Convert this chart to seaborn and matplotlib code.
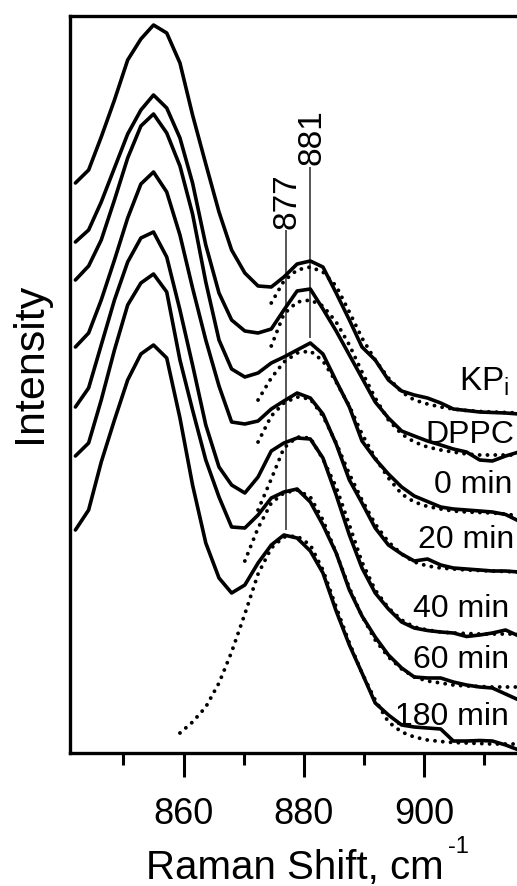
import numpy as np
import pandas as pd
import matplotlib
matplotlib.use("Agg")
import matplotlib.pyplot as plt
import seaborn as sns

# ---------------- data ----------------
raman_shift = [842.0, 844.2, 846.3, 848.5, 850.7, 852.9, 855.0, 857.2, 859.4, 861.5,
               863.7, 865.9, 868.0, 870.2, 872.4, 874.6, 876.7, 878.9, 881.1, 883.2,
               885.4, 887.6, 889.7, 891.9, 894.1, 896.3, 898.4, 900.6, 902.8, 904.9,
               907.1, 909.3, 911.4, 913.6, 915.8]

samples = ["KPi", "DPPC", "0 min", "20 min", "40 min", "60 min", "180 min"]
sample_labels = ["KP$_\\mathregular{i}$", "DPPC", "0 min", "20 min",
                 "40 min", "60 min", "180 min"]

# measured spectra (stacked, arbitrary units)
kpi = [569, 582, 615, 652, 692, 713, 727, 719, 689, 637,
       588, 540, 502, 479, 466, 465, 475, 488, 491, 485,
       459, 432, 405, 392, 372, 361, 357, 354, 349, 343,
       341.5, 340, 339.5, 339, 338]
dppc = [510, 522, 550, 584, 618, 642, 657, 644, 614, 569,
        507, 459, 432, 421, 419, 423, 442, 461, 463, 443,
        421, 397, 374, 350, 334, 321, 316, 311, 307, 303,
        300, 292, 291, 296, 300]
min0 = [472, 486, 512, 552, 594, 626, 638, 619, 586, 538,
        470, 412, 383, 375, 379, 389, 395, 402, 409, 398,
        371, 345, 311, 293, 278, 265, 256, 250.5, 245, 243,
        242, 241, 240, 237.5, 231]
min20 = [405, 419, 452, 492, 534, 568, 580, 560, 517, 464,
         412, 366, 330, 328, 331, 343, 351, 359, 354, 338,
         308, 272, 249, 224, 207, 198, 191, 193, 187, 184,
         183, 182, 181, 181, 180]
min40 = [345, 364, 407, 452, 490, 514, 520, 495, 442, 387,
         327, 285, 267, 259, 275, 301, 309, 314, 313, 294,
         257, 217, 184, 159, 143, 130, 124, 121.5, 120, 119,
         115.5, 117, 119, 122, 116]
min60 = [296, 309, 352, 402, 447, 469, 478, 460, 392, 342,
         292, 255, 225, 224, 237, 254, 260, 263, 250, 227,
         199, 162, 136, 115, 97, 84, 75, 74, 74, 70,
         67, 65, 64, 58, 52]
min180 = [222, 242, 290, 332, 372, 398, 407, 394, 334, 267,
          209, 174, 159, 167, 189, 207, 217, 214, 201, 179,
          141, 107, 79, 49, 37, 27, 25, 24, 23, 11,
          11, 11.5, 11, 7, 2]

# fitted bands (dotted), None where no fit was drawn
kpi_fit = [None] * 15 + [449, 471, 482, 485, 480, 466, 440, 414, 392, 374,
                         360, 352, 348, 345, 343, 341.5, 340.5, 340, 339.5, 339]
dppc_fit = [None] * 15 + [406, 438, 450, 452, 446, 430, 407, 380, 354, 332,
                          318, 310, 305, 302, 300, 298, 297, 297, 297, 297]
min0_fit = [None] * 14 + [352, 374, 390, 399, 401, 391, 370, 346, 318, 294,
                          274, 258, 250, 245.5, 243, 241, 240, 239.5, 239, 238, 236]
min20_fit = [None] * 14 + [310, 336, 349, 355, 353, 336, 309, 278, 252, 228,
                           210, 198, 190, 186, 184, 183, 182, 181.5, 181, 180.5, 180]
min40_fit = [None] * 14 + [242, 273, 304, 315, 314, 293, 265, 227, 190, 162,
                           144, 132, 125, 122, 120, 119, 118.5, 118, 118, 118, 118]
min60_fit = [None] * 13 + [191, 224, 249, 259, 262, 255, 232, 199, 164, 136,
                           112, 95, 83, 75, 71, 69, 67, 66, 65.5, 65, 65, 65]
min180_fit = [None] * 8 + [19, 30, 45, 69, 100, 138, 178, 204, 215, 216,
                           207, 182, 145, 109, 79, 52, 30, 20, 15, 12,
                           10.5, 9.5, 9, 8.5, 8, 8, 8]

spectra = [kpi, dppc, min0, min20, min40, min60, min180]
fits = [kpi_fit, dppc_fit, min0_fit, min20_fit, min40_fit, min60_fit, min180_fit]

peak_positions = [877, 881]
peak_labels = ["877", "881"]

# ---------------- annotation placement (style) ----------------
peak_line_bottom = [222, 414]
peak_line_top = [522, 585]
peak_text_y = [523, 587]
label_x = [914.3, 915.0, 914.7, 915.0, 914.2, 914.2, 914.2]
label_y = [361, 309, 259, 204, 135, 84, 27]
label_size = [24, 23, 23, 23, 23, 23, 23]

# ---------------- tables ----------------
spec_rows, fit_rows = [], []
for name, vals, fvals in zip(samples, spectra, fits):
    for x, y in zip(raman_shift, vals):
        spec_rows.append((name, x, y))
    for x, y in zip(raman_shift, fvals):
        if y is not None:
            fit_rows.append((name, x, y))
spec_df = pd.DataFrame(spec_rows, columns=["sample", "shift", "intensity"])
fit_df = pd.DataFrame(fit_rows, columns=["sample", "shift", "intensity"])

# ---------------- style ----------------
sns.set_theme(style="white")
plt.rcParams['font.family'] = ['Liberation Sans', 'DejaVu Sans']
plt.rcParams['mathtext.fontset'] = 'custom'
plt.rcParams['mathtext.rm'] = 'Liberation Sans'
plt.rcParams['mathtext.it'] = 'Liberation Sans:italic'
plt.rcParams['mathtext.bf'] = 'Liberation Sans:bold'
plt.rcParams['text.color'] = 'black'
plt.rcParams['axes.labelcolor'] = 'black'
plt.rcParams['xtick.color'] = 'black'
plt.rcParams['axes.edgecolor'] = 'black'

fig = plt.figure(figsize=(5.17, 8.86), dpi=100)
ax = fig.add_axes([70 / 517, (886 - 752.5) / 886, 447 / 517, 737 / 886])

sns.lineplot(data=fit_df, x="shift", y="intensity", units="sample",
             estimator=None, sort=True, color="black", lw=2.8,
             linestyle=(0, (0.01, 2.0)), dash_capstyle="round",
             legend=False, ax=ax, zorder=2)
sns.lineplot(data=spec_df, x="shift", y="intensity", units="sample",
             estimator=None, sort=True, color="black", lw=2.6,
             legend=False, ax=ax, zorder=3)

ax.vlines(peak_positions, peak_line_bottom, peak_line_top,
          color="#3a3a3a", lw=1.2, zorder=1)
for px, py, txt in zip(peak_positions, peak_text_y, peak_labels):
    ax.text(px + 0.3, py, txt, rotation=90, ha="center", va="bottom",
            fontsize=24, color="black")

for lx, ly, txt, fs in zip(label_x, label_y, sample_labels, label_size):
    ax.text(lx, ly, txt, ha="right", va="baseline", fontsize=fs, color="black")

ax.set_xlim(841.1, 915.5)
ax.set_ylim(-0.5, 736.5)
ax.set_xticks([860, 880, 900])
ax.set_xticks([850, 870, 890, 910], minor=True)
ax.set_yticks([])
ax.tick_params(axis="x", which="major", direction="out", length=17, width=2.2,
               pad=15, labelsize=26, bottom=True, top=False)
ax.tick_params(axis="x", which="minor", direction="out", length=8.6, width=2.2,
               bottom=True, top=False)

for s in ["left", "bottom", "top"]:
    ax.spines[s].set_linewidth(2.4)
    ax.spines[s].set_color("black")
ax.spines["right"].set_visible(False)

ax.set_xlabel("Raman Shift, cm", fontsize=29)
ax.xaxis.set_label_coords(0.503, -0.171)
ax.xaxis.label.set_va("baseline")
fig.text(448 / 517, (886 - 853) / 886, "-1", fontsize=17, ha="left", va="baseline")

ax.set_ylabel("Intensity", fontsize=31)
ax.yaxis.set_label_coords(-0.045, 0.528)

fig.savefig("out.png", dpi=100)
